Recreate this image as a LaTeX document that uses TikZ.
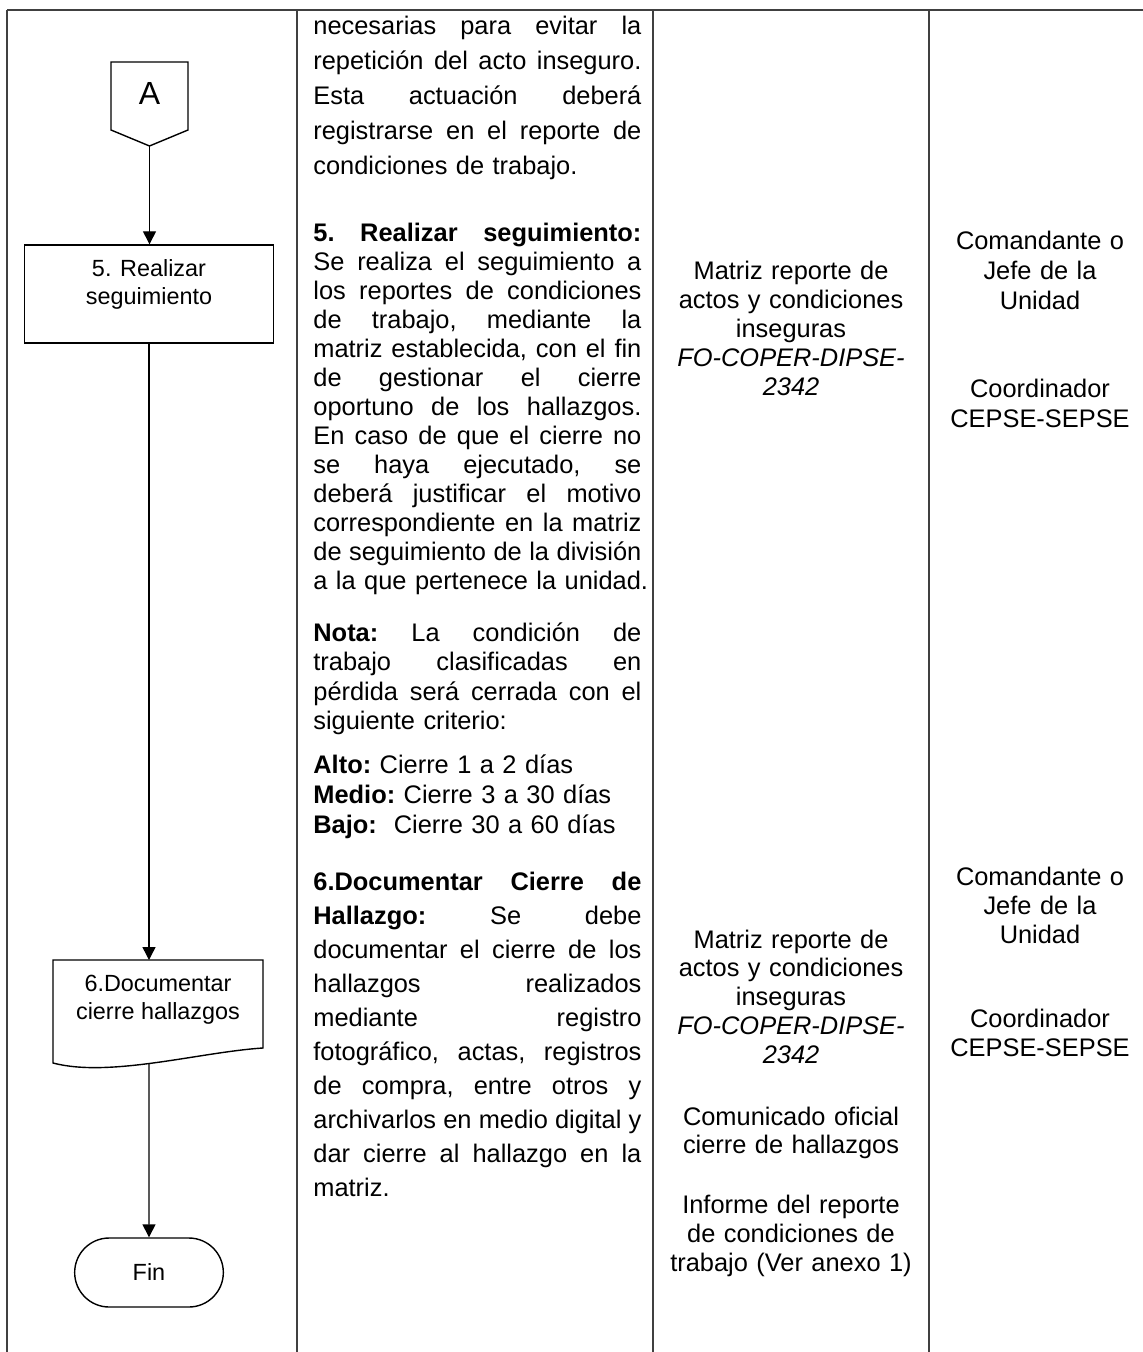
\documentclass[tikz,border=0pt]{standalone}
\usepackage{fontspec}
\setmainfont{Liberation Sans}
\usetikzlibrary{arrows.meta,shapes.misc}
% justified line / last line of a paragraph
\newcommand{\jline}[1]{\hbox to \linewidth{\frenchspacing\spaceskip=3.5pt plus 1fil\relax #1}}
\newcommand{\lline}[1]{\hbox to \linewidth{\frenchspacing #1\hfil}}
\newcommand{\fsz}[1]{\fontsize{12.7}{#1}\selectfont}
\begin{document}
\begin{tikzpicture}[x=0.5pt, y=-0.5pt,
  tabla/.style={draw=black!75, line width=0.6pt},
  forma/.style={draw, line width=0.7pt},
  flow/.style={draw, line width=0.7pt, -{Triangle[width=6.5pt,length=6.5pt]}},
  flow text/.style={align=center, font=\fontsize{11.7}{14}\selectfont},
  proceso/.style={forma, flow text, rectangle, minimum width=124.5pt, minimum height=49pt},
  terminal/.style={forma, flow text, rounded rectangle, minimum width=81pt, minimum height=34.5pt},
  desc/.style={anchor=base west, text width=164pt, inner sep=0pt},
  celda/.style={anchor=base, text width=125pt, align=center, inner sep=0pt}]
\useasboundingbox (0,0) rectangle (1143,1352);

% table
\draw[tabla] (7,10) -- (1143,10);
\draw[tabla] (7,10) -- (7,1352);
\draw[tabla] (297,10) -- (297,1352);
\draw[tabla] (653,10) -- (653,1352);
\draw[tabla] (929,10) -- (929,1352);

% flowchart
\draw[forma] (111,62) -- (188,62) -- (188,130) -- (149.5,146) -- (111,130) -- cycle;
\node[font=\fontsize{16}{19}\selectfont] (A) at (149.5,93.5) {A};
\coordinate (Apunta) at (149.5,146);
\node[proceso] (paso5) at (149,294) {5. Realizar\\seguimiento\\[-6pt]\strut};
\draw[forma] (53,960) -- (263,960) -- (263,1048) .. controls (200,1052) and (110,1078) .. (53,1063) -- cycle;
\node[flow text] (paso6) at (158,1000) {6.Documentar\\cierre hallazgos};
\coordinate (doctop) at (149,960);
\coordinate (docbot) at (149,1063);
\node[terminal] (fin) at (149,1272.5) {Fin};
\draw[flow] (Apunta) -- (Apunta |- paso5.north);
\draw[flow] (paso5) -- (doctop);
\draw[flow] (docbot) -- (fin);

% descripcion
\node[desc, font=\fsz{17.5pt}] (p4) at (313,35) {%
\jline{necesarias para evitar la}
\jline{repetición del acto inseguro.}
\jline{Esta actuación deberá}
\jline{registrarse en el reporte de}
\lline{condiciones de trabajo.}};
\node[desc, font=\fsz{14.5pt}] (p5) at (313,242) {%
\jline{\textbf{5. Realizar seguimiento:}}
\jline{Se realiza el seguimiento a}
\jline{los reportes de condiciones}
\jline{de trabajo, mediante la}
\jline{matriz establecida, con el fin}
\jline{de gestionar el cierre}
\jline{oportuno de los hallazgos.}
\jline{En caso de que el cierre no}
\jline{se haya ejecutado, se}
\jline{deberá justificar el motivo}
\jline{correspondiente en la matriz}
\jline{de seguimiento de la división}
\lline{a la que pertenece la unidad.}};
\node[desc, font=\fsz{14.75pt}] (nota) at (313,641) {%
\jline{\textbf{Nota:} La condición de}
\jline{trabajo clasificadas en}
\jline{pérdida será cerrada con el}
\lline{siguiente criterio:}};
\node[desc, font=\fsz{15pt}] (niveles) at (313,773) {%
\lline{\textbf{Alto:} Cierre 1 a 2 días}
\lline{\textbf{Medio:} Cierre 3 a 30 días}
\lline{\textbf{Bajo:}\ \ Cierre 30 a 60 días}};
\node[desc, font=\fsz{17pt}] (p6) at (313,890) {%
\jline{\textbf{6.Documentar Cierre de}}
\jline{\textbf{Hallazgo:} Se debe}
\jline{documentar el cierre de los}
\jline{hallazgos realizados}
\jline{mediante registro}
\jline{fotográfico, actas, registros}
\jline{de compra, entre otros y}
\jline{archivarlos en medio digital y}
\jline{dar cierre al hallazgo en la}
\lline{matriz.}};

% registros
\node[celda, font=\fsz{14.4pt}] (matriz1) at (791,280) {Matriz reporte de\\actos y condiciones\\inseguras\\\textit{FO-COPER-DIPSE-}\\\textit{2342}};
\node[celda, font=\fsz{14.4pt}] (matriz2) at (791,948) {Matriz reporte de\\actos y condiciones\\inseguras\\\textit{FO-COPER-DIPSE-}\\\textit{2342}};
\node[celda, font=\fsz{14.2pt}] (comunicado) at (791,1125) {Comunicado oficial\\cierre de hallazgos};
\node[celda, font=\fsz{14.5pt}] (informe) at (791,1213) {Informe del reporte\\de condiciones de\\trabajo (Ver anexo 1)};

% responsables
\node[celda, font=\fsz{15pt}] (resp1) at (1040,250) {Comandante o\\Jefe de la\\Unidad};
\node[celda, font=\fsz{14.5pt}] (coord1) at (1040,398) {Coordinador\\CEPSE-SEPSE};
\node[celda, font=\fsz{14.5pt}] (resp2) at (1040,885) {Comandante o\\Jefe de la\\Unidad};
\node[celda, font=\fsz{14.5pt}] (coord2) at (1040,1027) {Coordinador\\CEPSE-SEPSE};
\end{tikzpicture}
\end{document}
